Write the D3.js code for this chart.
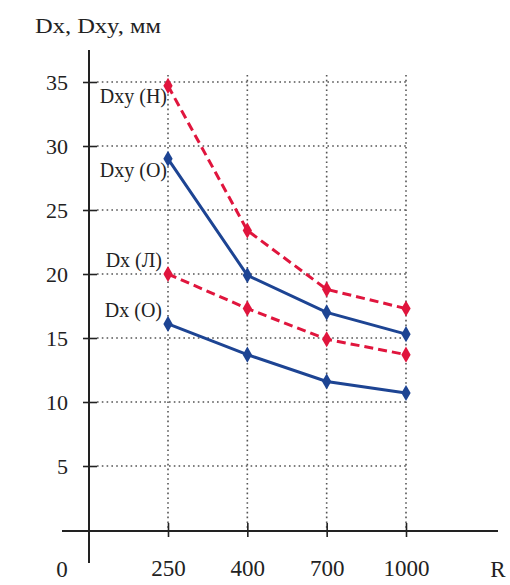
<!DOCTYPE html>
<html><head><meta charset="utf-8">
<script src="https://cdn.jsdelivr.net/npm/d3@7"></script>
<style>body{margin:0;background:#fff}svg{display:block}
svg text{font-family:"Liberation Serif","Times New Roman",Times,Tinos,"DejaVu Serif",serif !important;fill:#222}</style>
</head><body><svg id="c" width="510" height="585"></svg>
<script>
const categories = ["250", "400", "700", "1000"];
const yTicks = [5, 10, 15, 20, 25, 30, 35];
const dxyN = [34.7, 23.4, 18.8, 17.3];
const dxyO = [29.0, 19.9, 17.0, 15.3];
const dxL  = [20.0, 17.3, 14.9, 13.7];
const dxO  = [16.1, 13.7, 11.6, 10.7];
const seriesNames = ["Dxy (Н)", "Dxy (О)", "Dx (Л)", "Dx (О)"];
const seriesData = [dxyN, dxyO, dxL, dxO];

const RED = "#e0153d", BLUE = "#1d4493";
const styles = [
  {color: RED, dash: "9,5", ldx: -1, ldy: 17},
  {color: BLUE, dash: null, ldx: -1, ldy: 18},
  {color: RED, dash: "9,5", ldx: -6, ldy: -7},
  {color: BLUE, dash: null, ldx: -6, ldy: -7}
];

const svg = d3.select("#c");
const x = d3.scalePoint().domain(categories).range([168, 406]);
const y = d3.scaleLinear().domain([0, 35]).range([530, 82]);
const x0 = 89;

// grid
const grid = svg.append("g").attr("stroke", "#555").attr("stroke-width", 1.6).attr("stroke-dasharray", "1.6,3.2");
grid.selectAll("line.h").data(yTicks).join("line")
  .attr("x1", x0 + 8).attr("x2", x("1000")).attr("y1", d => y(d)).attr("y2", d => y(d));
grid.selectAll("line.v").data(categories).join("line")
  .attr("x1", d => x(d)).attr("x2", d => x(d)).attr("y1", y(35) - 7).attr("y2", y(0));

// y axis
const ya = svg.append("g").attr("transform", `translate(${x0},0)`)
  .call(d3.axisLeft(y).tickValues(yTicks).tickSize(6).tickPadding(0));
ya.attr("font-family", null).attr("font-size", null);
ya.select(".domain").remove();
ya.selectAll(".tick line").attr("x1", 8).attr("x2", -6).attr("stroke", "#222").attr("stroke-width", 1.6);
ya.selectAll(".tick text").attr("x", -21).attr("dy", "0.36em")
  .style("font-size", "22px").attr("fill", "#222");
svg.append("line").attr("x1", x0).attr("x2", x0).attr("y1", 50).attr("y2", 563)
  .attr("stroke", "#222").attr("stroke-width", 2);

// x axis
const xa = svg.append("g").attr("transform", `translate(0,${y(0)})`)
  .call(d3.axisBottom(x).tickSize(7).tickPadding(0));
xa.attr("font-family", null).attr("font-size", null);
xa.select(".domain").remove();
xa.selectAll(".tick line").attr("y1", -7).attr("y2", 7).attr("stroke", "#222").attr("stroke-width", 1.6);
xa.selectAll(".tick text").attr("y", 46).attr("dy", 0)
  .style("font-size", "23px").attr("fill", "#222");
svg.append("line").attr("x1", 62).attr("x2", 498).attr("y1", y(0) + 1).attr("y2", y(0) + 1)
  .attr("stroke", "#222").attr("stroke-width", 2);
svg.append("text").attr("x", 62).attr("y", 577).attr("text-anchor", "middle").style("font-size", "23px").text("0");
svg.append("text").attr("x", 498).attr("y", 577).attr("text-anchor", "middle").style("font-size", "23px").text("R");

// title
svg.append("text").attr("x", 35).attr("y", 33).style("font-size", "22px")
  .attr("textLength", 126).attr("lengthAdjust", "spacingAndGlyphs").text("Dx, Dxy, мм");

// series
const line = d3.line().x((d, i) => x(categories[i])).y(d => y(d));
seriesData.forEach((vals, k) => {
  const s = styles[k];
  const g = svg.append("g");
  g.append("path").datum(vals).attr("d", line).attr("fill", "none")
    .attr("stroke", s.color).attr("stroke-width", 3)
    .attr("stroke-dasharray", s.dash);
  g.selectAll("path.m").data(vals).join("path")
    .attr("transform", (d, i) => `translate(${x(categories[i])},${y(d)})`)
    .attr("d", d3.symbol().type(d3.symbolDiamond).size(75)())
    .attr("fill", s.color);
  g.append("text").attr("x", x(categories[0]) + s.ldx).attr("y", y(vals[0]) + s.ldy)
    .attr("text-anchor", "end").style("font-size", "20px").text(seriesNames[k]);
});
</script></body></html>
